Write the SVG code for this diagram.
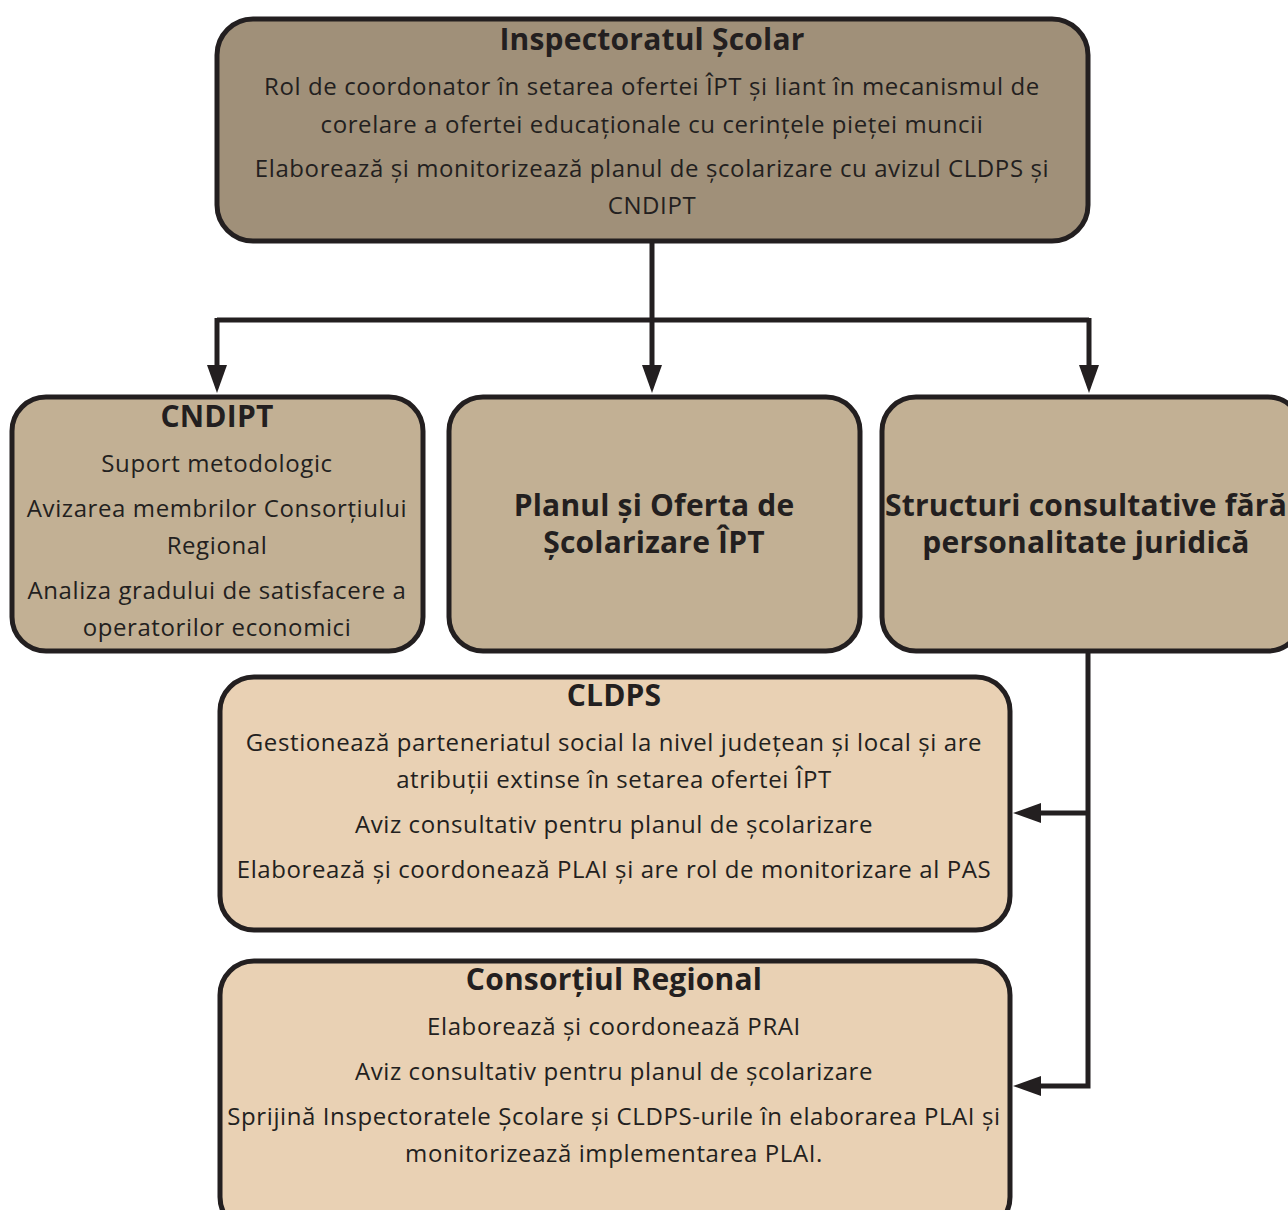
<svg xmlns="http://www.w3.org/2000/svg" width="1288" height="1210" viewBox="0 0 1288 1210">
<defs>
<marker id="ah" viewBox="0 0 28 20" refX="0" refY="10" markerWidth="28" markerHeight="20" markerUnits="userSpaceOnUse" orient="auto">
<path d="M0,0 L28,10 L0,20 Z" fill="#231f20"/>
</marker>
<style>
.box{stroke:#231f20;stroke-width:5}
.c1{fill:#a09079}
.c2{fill:#c2b094}
.c3{fill:#e9d1b4}
.t{font-family:"Open Sans","Noto Sans",sans-serif;font-size:24px;letter-spacing:0.6px;fill:#231f20;text-anchor:middle}
.h{font-family:"Open Sans","Noto Sans",sans-serif;font-size:30px;letter-spacing:0.2px;font-weight:bold;fill:#231f20;text-anchor:middle}
.ln{fill:none;stroke:#231f20;stroke-width:5}
</style>
</defs>
<rect width="1288" height="1210" fill="#ffffff"/>
<g id="connectors">
<path class="ln" d="M652,242 V365" marker-end="url(#ah)"/>
<path class="ln" d="M217,320 H1089"/>
<path class="ln" d="M217,318 V365" marker-end="url(#ah)"/>
<path class="ln" d="M1089,318 V365" marker-end="url(#ah)"/>
<path class="ln" d="M1088,652 V1086 H1041" marker-end="url(#ah)"/>
<path class="ln" d="M1088,813 H1041" marker-end="url(#ah)"/>
</g>
<g id="inspectoratul">
<rect class="box c1" x="217" y="19" width="871" height="222" rx="36"/>
<text class="h" x="652" y="50">Inspectoratul Școlar</text>
<text class="t" x="652" y="95">Rol de coordonator în setarea ofertei ÎPT și liant în mecanismul de</text>
<text class="t" x="652" y="133">corelare a ofertei educaționale cu cerințele pieței muncii</text>
<text class="t" x="652" y="177">Elaborează și monitorizează planul de școlarizare cu avizul CLDPS și</text>
<text class="t" x="652" y="214">CNDIPT</text>
</g>
<g id="cndipt">
<rect class="box c2" x="12" y="397" width="411" height="254" rx="34"/>
<text class="h" x="217" y="427">CNDIPT</text>
<text class="t" x="217" y="472">Suport metodologic</text>
<text class="t" x="217" y="517">Avizarea membrilor Consorțiului</text>
<text class="t" x="217" y="554">Regional</text>
<text class="t" x="217" y="599">Analiza gradului de satisfacere a</text>
<text class="t" x="217" y="636">operatorilor economici</text>
</g>
<g id="planul">
<rect class="box c2" x="449" y="397" width="411" height="254" rx="34"/>
<text class="h" x="654" y="516">Planul și Oferta de</text>
<text class="h" x="654" y="553">Școlarizare ÎPT</text>
</g>
<g id="structuri">
<rect class="box c2" x="882" y="397" width="420" height="254" rx="34"/>
<text class="h" x="1086" y="516">Structuri consultative fără</text>
<text class="h" x="1086" y="553">personalitate juridică</text>
</g>
<g id="cldps">
<rect class="box c3" x="220" y="677" width="790" height="253" rx="34"/>
<text class="h" x="614" y="706">CLDPS</text>
<text class="t" x="614" y="751">Gestionează parteneriatul social la nivel județean și local și are</text>
<text class="t" x="614" y="788">atribuții extinse în setarea ofertei ÎPT</text>
<text class="t" x="614" y="833">Aviz consultativ pentru planul de școlarizare</text>
<text class="t" x="614" y="878">Elaborează și coordonează PLAI și are rol de monitorizare al PAS</text>
</g>
<g id="consortiul">
<rect class="box c3" x="220" y="961" width="790" height="270" rx="34"/>
<text class="h" x="614" y="990">Consorțiul Regional</text>
<text class="t" x="614" y="1035">Elaborează și coordonează PRAI</text>
<text class="t" x="614" y="1080">Aviz consultativ pentru planul de școlarizare</text>
<text class="t" x="614" y="1125">Sprijină Inspectoratele Școlare și CLDPS-urile în elaborarea PLAI și</text>
<text class="t" x="614" y="1162">monitorizează implementarea PLAI.</text>
</g>
</svg>
